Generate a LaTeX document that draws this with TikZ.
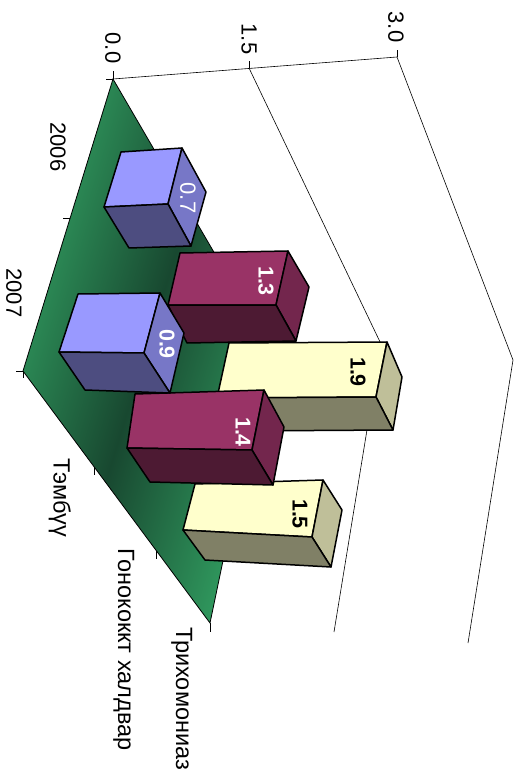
\documentclass[tikz,border=0pt]{standalone}
\usepackage{fontspec}
\setmainfont{Liberation Sans}

\definecolor{bluelight}{RGB}{153,153,255}
\definecolor{blueend}{RGB}{119,119,199}
\definecolor{bluedark}{RGB}{77,77,128}
\definecolor{purplelight}{RGB}{153,51,102}
\definecolor{purpleend}{RGB}{115,38,77}
\definecolor{purpledark}{RGB}{77,26,51}
\definecolor{yellowlight}{RGB}{255,255,204}
\definecolor{yellowend}{RGB}{191,191,153}
\definecolor{yellowdark}{RGB}{128,128,102}
\definecolor{floorlight}{RGB}{50,160,98}
\definecolor{floordark}{RGB}{24,72,48}

\tikzset{
  grid/.style={draw=black, line width=0.6pt},
  barline/.style={draw=black, line width=1.5pt, line join=round},
  axislabel/.style={rotate=-90, inner sep=0pt, font=\fontsize{22}{26}\selectfont},
  catlabel/.style={rotate=-90, inner sep=0pt, anchor=base west, font=\fontsize{23.5}{28}\selectfont},
  barlabel/.style={rotate=-90, inner sep=0pt, font=\fontsize{21.5}{26}\selectfont\bfseries},
}

% one bar: colour, then corners a b c d (side), e f (end), g (under)
\newcommand{\chartbar}[8]{%
  \filldraw[barline, fill=#1light] #2 -- #3 -- #4 -- #5 -- cycle;
  \filldraw[barline, fill=#1end] #3 -- #6 -- #7 -- #4 -- cycle;
  \filldraw[barline, fill=#1dark] #5 -- #4 -- #7 -- #8 -- cycle;
}

\begin{document}
\begin{tikzpicture}[x=1pt, y=-1pt]
  \useasboundingbox (0,0) rectangle (521,775);

  % walls
  \coordinate (v0) at (113,79);  \coordinate (v15) at (249,68);  \coordinate (v30) at (397,57);
  \coordinate (c0) at (268,345); \coordinate (c15) at (381,344); \coordinate (c30) at (513,360);
  \coordinate (b0) at (210,623); \coordinate (b15) at (334,632); \coordinate (b30) at (468,643);
  \coordinate (s1) at (23,371);

  \draw[grid] (v0) -- (v30);
  \draw[grid] (v15) -- (c15) -- (b15);
  \draw[grid] (v30) -- (c30) -- (b30);

  % ticks
  \draw[grid] (106,79) -- (v0) -- (113,71);
  \draw[grid] (v15) -- (249,61);
  \draw[grid] (v30) -- (397,50);
  \draw[grid] (63,218) -- (70,218);
  \draw[grid] (16,371) -- (s1) -- (23,378);
  \draw[grid] (94,467) -- (94,475);
  \draw[grid] (156,551) -- (156,559);
  \draw[grid] (b0) -- (210,632);

  % floor
  \shadedraw[draw=black, line width=0.8pt, top color=floorlight, bottom color=floorlight,
    middle color=floordark, shading angle=73] (v0) -- (s1) -- (b0) -- (c0) -- cycle;

  % 2006
  \chartbar{yellow}{(229,343)}{(387,342)}{(376,397)}{(217,398)}{(402,377)}{(393,430)}{(234,431)}
  \chartbar{purple}{(180,253)}{(288,251)}{(276,305)}{(168,305)}{(309,287)}{(296,341)}{(187,343)}
  \chartbar{blue}{(121,152)}{(182,148)}{(168,204)}{(104,207)}{(206,192)}{(191,246)}{(129,248)}
  % 2007
  \chartbar{yellow}{(195,484)}{(323,480)}{(312,537)}{(183,530)}{(342,510)}{(331,567)}{(205,560)}
  \chartbar{purple}{(135,394)}{(264,390)}{(252,450)}{(127,448)}{(284,427)}{(273,485)}{(150,482)}
  \chartbar{blue}{(78,294)}{(160,293)}{(144,353)}{(59,352)}{(184,333)}{(170,393)}{(85,390)}

  % values
  \node[axislabel, white] (t07) at (188,198) {0.7};
  \node[barlabel, white] (t13) at (266,281) {1.3};
  \node[barlabel] (t19) at (358,372) {1.9};
  \node[barlabel, white] (t09) at (167,344) {0.9};
  \node[barlabel, white] (t14) at (243,432) {1.4};
  \node[barlabel] (t15) at (300,514) {1.5};

  % axes
  \node[axislabel] (l00) at (113,48) {0.0};
  \node[axislabel] (l15) at (249,39) {1.5};
  \node[axislabel] (l30) at (396,27) {3.0};
  \node[axislabel] (y06) at (58,147) {2006};
  \node[axislabel] (y07) at (14,293) {2007};
  \node[catlabel] (k1) at (53.5,458) {Тэмбүү};
  \node[catlabel] (k2) at (118,548) {Гонококкт халдвар};
  \node[catlabel] (k3) at (176,627) {Трихомониаз};
\end{tikzpicture}
\end{document}
